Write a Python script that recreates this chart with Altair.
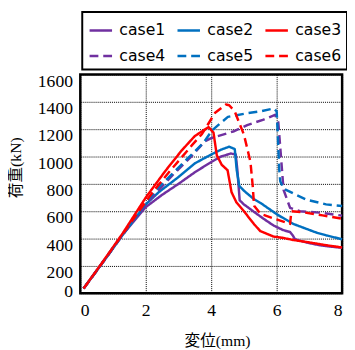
import altair as alt
import pandas as pd

case1_x = [0.1, 0.7, 1.3, 2.0, 2.5, 3.0, 3.5, 4.0, 4.3, 4.6, 4.75, 4.8, 4.87, 5.0, 5.31, 5.6, 5.91, 6.2, 6.41, 6.5, 6.56, 6.9, 7.3, 7.7, 8.0]
case1_y = [35, 230, 430, 630, 720, 800, 885, 960, 1000, 1022, 1015, 900, 680, 650, 595, 545, 495, 462, 448, 420, 395, 372, 352, 340, 333]

case2_x = [0.1, 0.7, 1.3, 2.0, 2.4, 3.0, 3.5, 4.0, 4.3, 4.55, 4.72, 4.78, 4.86, 5.0, 5.31, 5.51, 6.01, 6.51, 6.91, 7.2, 7.51, 8.0]
case2_y = [35, 230, 430, 650, 740, 850, 950, 1015, 1050, 1072, 1055, 900, 785, 750, 688, 660, 577, 507, 471, 445, 424, 395]

case3_x = [0.1, 0.7, 1.3, 2.0, 2.6, 3.1, 3.5, 3.92, 4.07, 4.17, 4.32, 4.5, 4.62, 4.77, 5.0, 5.31, 5.5, 5.7, 5.9, 6.2, 6.5, 7.0, 7.5, 8.0]
case3_y = [35, 235, 440, 700, 895, 1045, 1150, 1215, 1175, 1010, 940, 900, 740, 665, 600, 505, 455, 435, 415, 405, 390, 372, 352, 335]

case4_x = [0.1, 0.7, 1.3, 2.0, 2.27, 2.82, 3.42, 3.8, 4.0, 4.7, 5.1, 5.6, 5.95, 6.05, 6.11, 6.21, 6.41, 6.71, 7.31, 8.0]
case4_y = [35, 230, 430, 650, 721, 864, 1007, 1110, 1135, 1185, 1230, 1270, 1305, 1250, 1067, 757, 625, 600, 590, 568]

case5_x = [0.1, 0.7, 1.3, 2.0, 2.32, 3.07, 3.77, 4.02, 4.51, 5.11, 5.5, 5.91, 6.0, 6.03, 6.08, 6.11, 6.21, 6.51, 6.91, 7.51, 8.0]
case5_y = [35, 230, 430, 660, 757, 936, 1102, 1190, 1290, 1317, 1330, 1352, 1330, 1186, 900, 820, 765, 730, 685, 650, 638]

case6_x = [0.1, 0.7, 1.3, 2.0, 2.27, 2.72, 3.42, 3.72, 4.12, 4.45, 4.55, 4.72, 5.0, 5.2, 5.27, 5.31, 5.51, 6.11, 6.41, 6.45, 6.81, 7.4, 8.0]
case6_y = [35, 232, 435, 670, 757, 888, 1085, 1165, 1320, 1380, 1375, 1329, 1160, 960, 780, 640, 580, 531, 507, 600, 592, 570, 545]

cases = ["case1", "case2", "case3", "case4", "case5", "case6"]
colors = ["#7030A0", "#0070C0", "#FF0000", "#7030A0", "#0070C0", "#FF0000"]
dashes = [[1, 0], [1, 0], [1, 0], [9, 5], [9, 5], [9, 5]]
x_ticks = [0, 2, 4, 6, 8]
y_ticks = [0, 200, 400, 600, 800, 1000, 1200, 1400, 1600]

series = [(case1_x, case1_y), (case2_x, case2_y), (case3_x, case3_y),
          (case4_x, case4_y), (case5_x, case5_y), (case6_x, case6_y)]
rows = []
for name, (xs, ys) in zip(cases, series):
    for i, (xv, yv) in enumerate(zip(xs, ys)):
        rows.append({"case": name, "x": xv, "y": yv, "order": i})
df = pd.DataFrame(rows)

serif = "Liberation Serif, Times New Roman, DejaVu Serif, Noto Sans CJK JP, serif"
label_font = "Liberation Serif, Times New Roman, DejaVu Serif, serif"

common_axis = dict(
    grid=True, domain=False, ticks=False, format="d", labelOverlap=False,
    gridColor="black", gridDash=[1, 1], gridWidth=1, gridOpacity=1,
    labelFont=label_font, labelFontSize=18, labelColor="black",
    titleFont=serif, titleFontSize=16, titleColor="black", titleFontWeight="normal",
)

chart = alt.Chart(df).mark_line(strokeWidth=2.5, strokeJoin="round").encode(
    x=alt.X("x:Q", scale=alt.Scale(domain=[0, 8], nice=False),
            axis=alt.Axis(values=x_ticks, title="変位(mm)", labelPadding=9,
                          titleX=140, titleY=53, titleBaseline="alphabetic",
                          **common_axis)),
    y=alt.Y("y:Q", scale=alt.Scale(domain=[0, 1600], nice=False),
            axis=alt.Axis(values=y_ticks, title="荷重(kN)", labelPadding=8,
                          labelOffset=alt.ExprRef("datum.value == 0 ? -2 : 7"),
                          titleX=-66, titleY=95, titleBaseline="middle",
                          **common_axis)),
    color=alt.Color("case:N", scale=alt.Scale(domain=cases, range=colors),
                    legend=alt.Legend(title=None)),
    strokeDash=alt.StrokeDash("case:N", scale=alt.Scale(domain=cases, range=dashes),
                              legend=alt.Legend(title=None)),
    order="order:Q",
).properties(
    width=268, height=224,
    padding={"left": 74, "top": 64, "right": 5, "bottom": 54},
    autosize=alt.AutoSizeParams(type="none"),
).configure_view(
    stroke="black", strokeWidth=2.5,
).configure_legend(
    orient="none", legendX=2, legendY=-64, columns=3, direction="horizontal",
    symbolType="stroke", symbolSize=529, symbolStrokeWidth=2.5,
    labelFont="DejaVu Sans", labelFontSize=16, labelColor="black", labelOffset=6,
    columnPadding=7, rowPadding=5, padding=6,
    strokeColor="black", strokeWidth=2, fillColor="white",
)

chart.save("out.html", embed_options={"renderer": "svg", "actions": False})
